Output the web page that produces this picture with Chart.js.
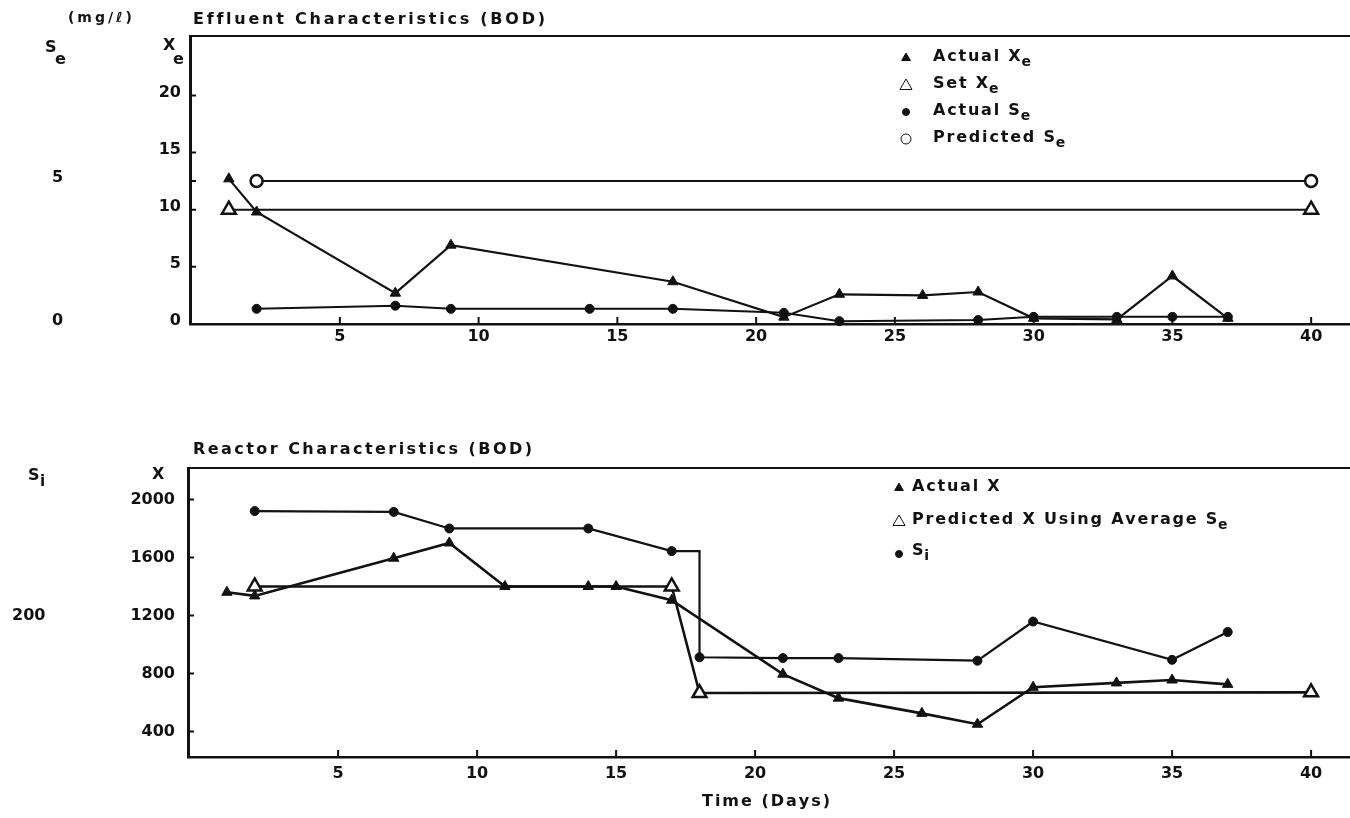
<!DOCTYPE html>
<html>
<head>
<meta charset="utf-8">
<script src="https://cdn.jsdelivr.net/npm/chart.js@4.4.1/dist/chart.umd.min.js"></script>
<style>
  html, body { margin: 0; padding: 0; background: #fff; }
  #wrap { position: relative; width: 1350px; height: 818px; }
  canvas { position: absolute; left: 0; }
  #effluent { top: 0; }
  #reactor { top: 420px; }
</style>
</head>
<body>
<div id="wrap">
  <canvas id="effluent" width="1350" height="350"></canvas>
  <canvas id="reactor" width="1350" height="398"></canvas>
</div>
<script>
// ---- effluent characteristics (BOD), mg/l vs day ----
var xeDays = [1, 2, 7, 9, 17, 21, 23, 26, 28, 30, 33, 35, 37];
var xeActual = [12.7, 9.8, 2.7, 6.9, 3.7, 0.6, 2.6, 2.5, 2.8, 0.5, 0.4, 4.2, 0.5];
var xeSetDays = [1, 40];
var xeSet = [10, 10];
var seDays = [2, 7, 9, 14, 17, 21, 23, 28, 30, 33, 35, 37];
var seActual = [0.53, 0.64, 0.53, 0.53, 0.53, 0.39, 0.1, 0.14, 0.25, 0.25, 0.25, 0.25];
var sePredDays = [2, 40];
var sePred = [5, 5];
var xeTicks = [0, 5, 10, 15, 20];
var seTicks = [0, 5];

// ---- reactor characteristics (BOD) ----
var xDays = [1, 2, 7, 9, 11, 14, 15, 17, 21, 23, 26, 28, 30, 33, 35, 37];
var xActual = [1360, 1335, 1595, 1700, 1400, 1400, 1400, 1305, 795, 630, 525, 450, 705, 735, 755, 725];
var xPredDays = [2, 17, 18, 40];
var xPred = [1400, 1400, 665, 670];
// the step at day 18 has a bare corner point (no marker)
var siDays = [2, 7, 9, 14, 17, 18, 18, 21, 23, 28, 30, 35, 37];
var siVals = [320, 319, 300, 300, 274, 274, 152, 151, 151, 148, 193, 149, 181];
var siMarker = [1, 1, 1, 1, 1, 0, 1, 1, 1, 1, 1, 1, 1];
var xTicks = [400, 800, 1200, 1600, 2000];
var siTicks = [200];

var dayTicks = [5, 10, 15, 20, 25, 30, 35, 40];

var FONT = '"DejaVu Sans", sans-serif';
var INK = '#111';

function pts(xs, ys) {
  return xs.map(function (d, i) { return { x: d, y: ys[i] }; });
}

function fixedTicks(values) {
  return function (scale) {
    scale.ticks = values.map(function (v) { return { value: v }; });
  };
}

// text drawn one glyph at a time so the typewriter-like spacing can be set
function spaced(ctx, s, x, y, size, sp) {
  ctx.font = 'bold ' + size + 'px ' + FONT;
  ctx.textAlign = 'left';
  ctx.textBaseline = 'middle';
  for (var i = 0; i < s.length; i++) {
    ctx.fillText(s[i], x, y);
    x += ctx.measureText(s[i]).width + sp;
  }
  return x;
}

function spacedWidth(ctx, s, size, sp) {
  ctx.font = 'bold ' + size + 'px ' + FONT;
  var w = 0;
  for (var i = 0; i < s.length; i++) w += ctx.measureText(s[i]).width + sp;
  return w - sp;
}

function fitted(ctx, s, x, y, size, width) {
  return spaced(ctx, s, x, y, size, (width - spacedWidth(ctx, s, size, 0)) / (s.length - 1));
}

function withSub(ctx, s, sub, x, y) {
  var end = spaced(ctx, s, x, y, 16, 1.8);
  return spaced(ctx, sub, end - 1, y + 5, 14, 1);
}

function marker(ctx, style, filled, r, x, y) {
  ctx.save();
  ctx.fillStyle = filled ? INK : '#fff';
  ctx.strokeStyle = INK;
  Chart.helpers.drawPoint(ctx, { pointStyle: style, radius: r, rotation: 0, borderWidth: filled ? 1 : 2 }, x, y);
  ctx.restore();
}

// top border of the frame plus short tick marks pointing into the plot
var framePlugin = {
  id: 'frame',
  afterDraw: function (chart, args, opts) {
    var a = chart.chartArea, ctx = chart.ctx;
    ctx.save();
    ctx.strokeStyle = INK;
    ctx.lineWidth = 2;
    ctx.beginPath();
    ctx.moveTo(a.left, a.top);
    ctx.lineTo(a.right, a.top);
    var xs = chart.scales.x;
    dayTicks.forEach(function (d) {
      var px = xs.getPixelForValue(d);
      ctx.moveTo(px, a.bottom);
      ctx.lineTo(px, a.bottom - 7);
    });
    (opts.yMarks || []).forEach(function (m) {
      var sc = chart.scales[m[0]];
      m[1].forEach(function (v) {
        var py = sc.getPixelForValue(v);
        ctx.moveTo(a.left, py);
        ctx.lineTo(a.left + 6, py);
      });
    });
    ctx.stroke();
    ctx.restore();
  }
};

var tickFont = { family: FONT, size: 16, weight: 'bold' };

function plain(v) { return String(v); }

function baseX(height, pad) {
  return {
    type: 'linear', position: 'bottom', min: -0.4, max: 41.4,
    afterBuildTicks: fixedTicks(dayTicks),
    // the day axis runs right to the edge of the canvas
    afterFit: function (s) { s.height = height; s.paddingLeft = 0; s.paddingRight = 0; },
    grid: { display: false, drawTicks: false },
    border: { color: INK, width: 2.5 },
    ticks: { color: INK, font: tickFont, padding: pad, maxRotation: 0, callback: plain }
  };
}

// inner axis: labels right-aligned against the frame
function yAxis(min, max, values, width, pad, offset) {
  return {
    type: 'linear', position: 'left', min: min, max: max, weight: 0,
    afterBuildTicks: fixedTicks(values),
    afterFit: function (s) { s.width = width; },
    grid: { display: false, drawTicks: false },
    border: { color: INK, width: 3 },
    ticks: { color: INK, font: tickFont, padding: pad, labelOffset: offset, callback: plain }
  };
}

// outer axis: labels left-aligned at the axis' own left edge, no line
function outerAxis(min, max, values, width, offset) {
  return {
    type: 'linear', position: 'left', min: min, max: max, weight: 1,
    afterBuildTicks: fixedTicks(values),
    afterFit: function (s) { s.width = width; },
    grid: { display: false, drawTicks: false },
    border: { display: false },
    ticks: { color: INK, font: tickFont, padding: 0, crossAlign: 'far', labelOffset: offset, callback: plain }
  };
}

function series(data, yID, style, filled, r, lw) {
  return {
    data: data, yAxisID: yID, showLine: true, clip: false,
    borderColor: INK, borderWidth: lw, tension: 0,
    pointStyle: style, pointRadius: r, pointHoverRadius: r,
    pointBackgroundColor: filled ? INK : '#fff',
    pointBorderColor: INK, pointBorderWidth: filled ? 1 : 2.5
  };
}

// ================= effluent panel =================
new Chart(document.getElementById('effluent'), {
  type: 'line',
  data: {
    datasets: [
      series(pts(xeDays, xeActual), 'xe', 'triangle', true, 6, 2.2),
      series(pts(xeSetDays, xeSet), 'xe', 'triangle', false, 8, 2),
      series(pts(seDays, seActual), 'se', 'circle', true, 4.5, 2),
      series(pts(sePredDays, sePred), 'se', 'circle', false, 6, 2)
    ]
  },
  options: {
    responsive: false,
    animation: false,
    events: [],
    layout: { autoPadding: false, padding: { top: 36, left: 52, right: 0, bottom: 0 } },
    scales: {
      x: baseX(26, 3),
      se: outerAxis(0, 10.07, seTicks, 58, -3),
      xe: yAxis(0, 25.2, xeTicks, 80, 9, -3)
    },
    plugins: {
      legend: { display: false },
      tooltip: { enabled: false },
      frame: { yMarks: [['xe', [5, 10, 15, 20]], ['se', [5]]] }
    }
  },
  plugins: [framePlugin, {
    id: 'effluentText',
    afterDraw: function (chart) {
      var ctx = chart.ctx;
      ctx.save();
      ctx.fillStyle = INK;
      fitted(ctx, 'Effluent Characteristics (BOD)', 193, 20, 16, 352);
      fitted(ctx, '(mg/\u2113)', 68, 18, 14, 64);
      spaced(ctx, 'S', 45, 48, 16, 0);
      spaced(ctx, 'e', 55, 60, 16, 0);
      spaced(ctx, 'X', 163, 46, 16, 0);
      spaced(ctx, 'e', 173, 60, 16, 0);
      // legend
      marker(ctx, 'triangle', true, 5, 906, 58);
      withSub(ctx, 'Actual X', 'e', 933, 57);
      marker(ctx, 'triangle', false, 7, 906, 86);
      withSub(ctx, 'Set X', 'e', 933, 84);
      marker(ctx, 'circle', true, 3.5, 906, 112);
      withSub(ctx, 'Actual S', 'e', 933, 111);
      marker(ctx, 'circle', false, 5, 906, 139);
      withSub(ctx, 'Predicted S', 'e', 933, 138);
      ctx.restore();
    }
  }]
});

// ================= reactor panel =================
var siSet = series(pts(siDays, siVals), 'si', 'circle', true, 4.5, 2.2);
siSet.pointRadius = siMarker.map(function (m) { return m ? 4.5 : 0; });

new Chart(document.getElementById('reactor'), {
  type: 'line',
  data: {
    datasets: [
      series(pts(xDays, xActual), 'xx', 'triangle', true, 6, 2.6),
      series(pts(xPredDays, xPred), 'xx', 'triangle', false, 8, 2.6),
      siSet
    ]
  },
  options: {
    responsive: false,
    animation: false,
    events: [],
    layout: { autoPadding: false, padding: { top: 48, left: 12, right: 0, bottom: 0 } },
    scales: {
      x: baseX(61, 7),
      si: outerAxis(224 / 6, 2217 / 6, siTicks, 88, 0),
      xx: yAxis(224, 2217, xTicks, 88, 13, 0)
    },
    plugins: {
      legend: { display: false },
      tooltip: { enabled: false },
      frame: { yMarks: [['xx', xTicks]] }
    }
  },
  plugins: [framePlugin, {
    id: 'reactorText',
    afterDraw: function (chart) {
      var ctx = chart.ctx;
      ctx.save();
      ctx.fillStyle = INK;
      fitted(ctx, 'Reactor Characteristics (BOD)', 193, 30, 16, 339);
      spaced(ctx, 'S', 28, 56, 16, 0);
      spaced(ctx, 'i', 40, 62, 15, 0);
      spaced(ctx, 'X', 152, 55, 16, 0);
      fitted(ctx, 'Time (Days)', 702, 382, 16, 128);
      // legend
      marker(ctx, 'triangle', true, 5, 899, 68);
      spaced(ctx, 'Actual X', 912, 67, 16, 1.8);
      marker(ctx, 'triangle', false, 7, 899, 102);
      withSub(ctx, 'Predicted X Using Average S', 'e', 912, 100);
      marker(ctx, 'circle', true, 3.5, 899, 134);
      withSub(ctx, 'S', 'i', 912, 131);
      ctx.restore();
    }
  }]
});
</script>
</body>
</html>
